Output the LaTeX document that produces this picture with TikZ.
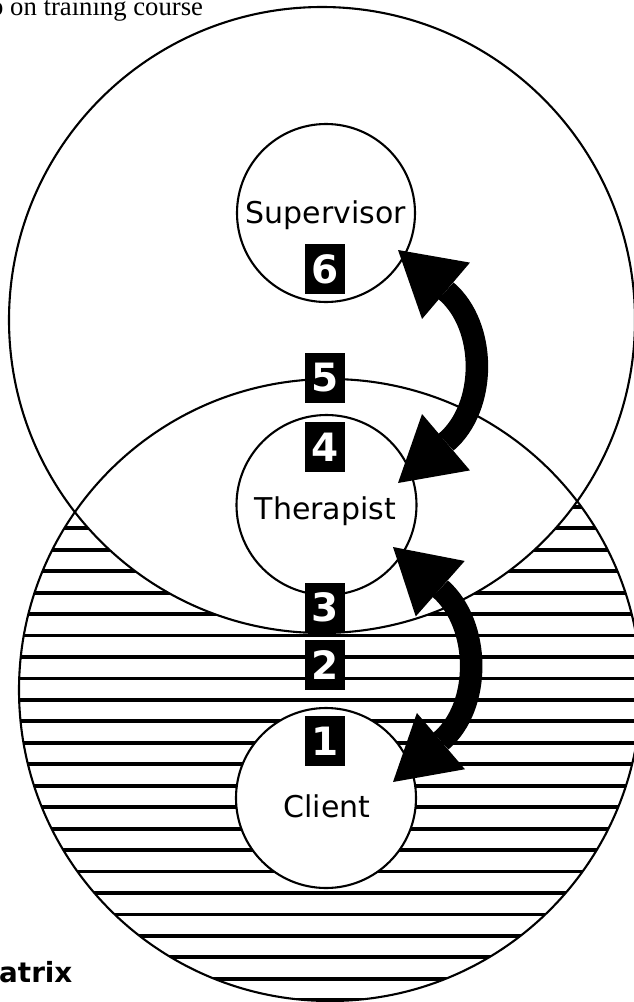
\documentclass[tikz,border=0pt]{standalone}
\usepackage{fontspec}
\setmainfont{DejaVu Sans}
\newfontfamily\serifft{Liberation Serif}
\usetikzlibrary{arrows.meta}
\begin{document}
\begin{tikzpicture}[x=1pt,y=-1pt,
  ring/.style={draw=black,line width=2.1pt},
  small/.style={circle,draw=black,line width=2.1pt,fill=white,minimum size=180pt,inner sep=0pt},
  numbox/.style={fill=black,text=white,minimum width=40pt,minimum height=50pt,inner sep=0pt,font=\bfseries\fontsize{39}{40}\selectfont},
  lbl/.style={anchor=base,inner sep=0pt,font=\fontsize{30}{36}\selectfont},
  stripe/.style={line width=3.8pt},
  bigarrow/.style={line width=22.5pt,{Triangle[length=63pt,width=74pt,line width=0pt]}-{Triangle[length=63pt,width=74pt,line width=0pt]}}
]
\useasboundingbox (0,0) rectangle (634,1002);
\fill[white] (0,0) rectangle (634,1002);
% stripes in the client context circle
\begin{scope}
  \clip (330,690) circle[radius=311];
  \foreach \k in {-8,...,22} \draw[stripe] (0,{528.3+21.45*\k}) -- (650,{528.3+21.45*\k});
\end{scope}
\fill[white] (322,320) circle[radius=313];
\draw[ring] (322,320) circle[radius=313];
\draw[ring] (330,690) circle[radius=311];
% small circles
\node[small,minimum size=178pt] (sup) at (326,213) {};
\node[small] (ther) at (326.5,505) {};
\node[small] (cli) at (326,798) {};
\node[lbl] (supl) at (326,223) {Supervisor};
\node[lbl] (therl) at (325.5,519) {Therapist};
\node[lbl] (clil) at (327,817) {Client};
% numbered boxes
\node[numbox] (n6) at (325,269) {6};
\node[numbox] (n5) at (325,378) {5};
\node[numbox] (n4) at (325,447) {4};
\node[numbox] (n3) at (325,607.5) {3};
\node[numbox] (n2) at (325,665) {2};
\node[numbox] (n1) at (325,741) {1};
% arrows
\coordinate (a1) at (398,250);
\coordinate (a2) at (398,483);
\coordinate (b1) at (393,547);
\coordinate (b2) at (393,782);
\draw[bigarrow] (a1) .. controls (487.2,325.8) and (487.2,407.2) .. (a2);
\draw[bigarrow] (b1) .. controls (480.8,624.5) and (482,706) .. (b2);
% texts
\node[anchor=base west,inner sep=0pt,font=\serifft\fontsize{26.7}{30}\selectfont] (title) at (-10,15) {p on training course};
\node[anchor=base west,inner sep=0pt,font=\bfseries\fontsize{27.8}{30}\selectfont] (matrix) at (-1,982) {atrix};
\end{tikzpicture}
\end{document}
